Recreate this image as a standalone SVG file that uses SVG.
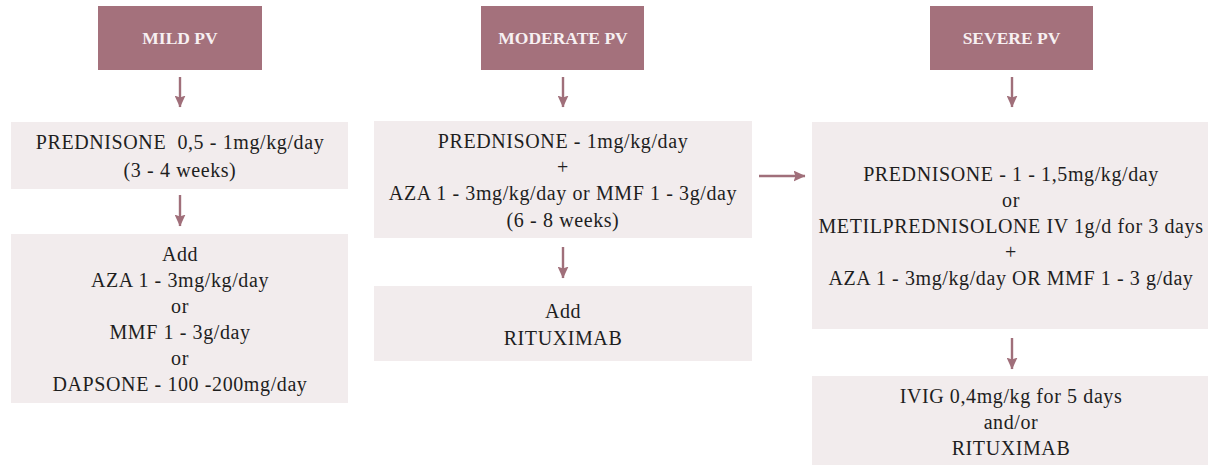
<svg xmlns="http://www.w3.org/2000/svg" width="1208" height="465" viewBox="0 0 1208 465">
<defs>
<marker id="ah" markerUnits="userSpaceOnUse" markerWidth="12" markerHeight="11" viewBox="0 0 12 11" refX="11.5" refY="5.5" orient="auto">
<path d="M0,0 L12,5.5 L0,11 L2,5.5 z" fill="#a06f7a"/>
</marker>
<style>
.hdr{fill:#a4717c}
.box{fill:#f2eced}
.ht{font-family:"Liberation Serif",serif;font-weight:bold;font-size:17.5px;fill:#f7f0f2;text-anchor:middle}
.bt{font-family:"Liberation Serif",serif;font-size:20px;letter-spacing:0.6px;fill:#1e1e1e;text-anchor:middle}
.con line{stroke:#a06f7a;stroke-width:2.4;marker-end:url(#ah)}
</style>
</defs>
<rect width="1208" height="465" fill="#fff"/>
<g id="mild-header"><rect class="hdr" x="98" y="6" width="164" height="64"/><text class="ht" x="180" y="44">MILD PV</text></g>
<g id="mild-step1"><rect class="box" x="11" y="122" width="337" height="67"/>
<text class="bt" x="180" y="149" xml:space="preserve">PREDNISONE  0,5 - 1mg/kg/day</text>
<text class="bt" x="180" y="177">(3 - 4 weeks)</text></g>
<g id="mild-step2"><rect class="box" x="11" y="234" width="337" height="169"/>
<text class="bt" x="180" y="261">Add</text>
<text class="bt" x="180" y="287">AZA 1 - 3mg/kg/day</text>
<text class="bt" x="180" y="313">or</text>
<text class="bt" x="180" y="339">MMF 1 - 3g/day</text>
<text class="bt" x="180" y="365">or</text>
<text class="bt" x="180" y="391">DAPSONE - 100 -200mg/day</text></g>
<g id="moderate-header"><rect class="hdr" x="481" y="6" width="163" height="64"/><text class="ht" x="563" y="44">MODERATE PV</text></g>
<g id="moderate-step1"><rect class="box" x="374" y="121" width="378" height="117"/>
<text class="bt" x="563" y="148">PREDNISONE - 1mg/kg/day</text>
<text class="bt" x="563" y="174">+</text>
<text class="bt" x="563" y="200">AZA 1 - 3mg/kg/day or MMF 1 - 3g/day</text>
<text class="bt" x="563" y="227">(6 - 8 weeks)</text></g>
<g id="moderate-step2"><rect class="box" x="374" y="286" width="378" height="75"/>
<text class="bt" x="563" y="318">Add</text>
<text class="bt" x="563" y="345">RITUXIMAB</text></g>
<g id="severe-header"><rect class="hdr" x="930" y="6" width="163" height="64"/><text class="ht" x="1011.5" y="44">SEVERE PV</text></g>
<g id="severe-step1"><rect class="box" x="812" y="122" width="396" height="207"/>
<text class="bt" x="1011" y="181">PREDNISONE - 1 - 1,5mg/kg/day</text>
<text class="bt" x="1011" y="207">or</text>
<text class="bt" x="1011" y="233">METILPREDNISOLONE IV 1g/d for 3 days</text>
<text class="bt" x="1011" y="259">+</text>
<text class="bt" x="1011" y="285">AZA 1 - 3mg/kg/day OR MMF 1 - 3 g/day</text></g>
<g id="severe-step2"><rect class="box" x="812" y="376" width="396" height="89"/>
<text class="bt" x="1011" y="403">IVIG 0,4mg/kg for 5 days</text>
<text class="bt" x="1011" y="429">and/or</text>
<text class="bt" x="1011" y="455">RITUXIMAB</text></g>
<g id="connectors" class="con">
<line x1="180" y1="77" x2="180" y2="107"/>
<line x1="180" y1="195" x2="180" y2="226"/>
<line x1="563" y1="77" x2="563" y2="107"/>
<line x1="563" y1="247" x2="563" y2="278"/>
<line x1="759" y1="176" x2="805" y2="176"/>
<line x1="1012" y1="77" x2="1012" y2="107"/>
<line x1="1012" y1="338" x2="1012" y2="369"/>
</g>
</svg>
